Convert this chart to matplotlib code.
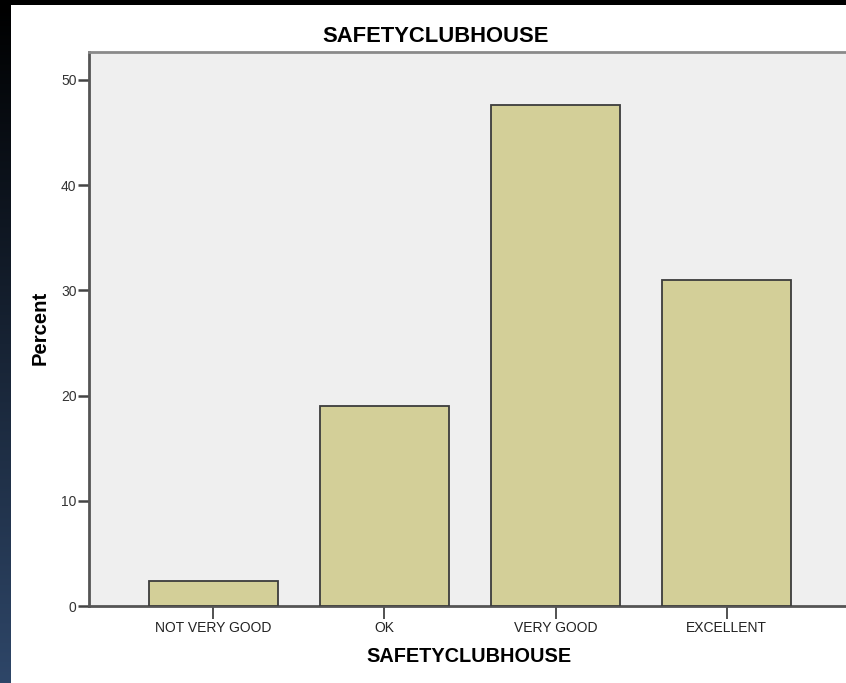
import numpy as np
import matplotlib.pyplot as plt
from matplotlib.patches import Rectangle

categories = ["NOT VERY GOOD", "OK", "VERY GOOD", "EXCELLENT"]
percent = [2.4, 19.0, 47.6, 31.0]
yticks = [0, 10, 20, 30, 40, 50]

plt.rcParams['font.family'] = ['Liberation Sans', 'DejaVu Sans']

W, H = 846, 683
fig = plt.figure(figsize=(W / 100, H / 100), dpi=100)
fig.patch.set_facecolor('black')

# white page area
fig.patches.append(Rectangle((10 / W, 0), 1, 1 - 5 / H, transform=fig.transFigure,
                             facecolor='white', edgecolor='none', zorder=-10))
# dark blue strip on the left edge
strip = fig.add_axes([0, 0, 10 / W, 1 - 5 / H])
grad = np.linspace(0, 1, 256).reshape(-1, 1)
strip.imshow(grad, aspect='auto', cmap=plt.matplotlib.colors.LinearSegmentedColormap.from_list(
    'edge', ['#2e4668', '#000000']), origin='lower')
strip.axis('off')

ax = fig.add_axes([89 / W, 1 - 606 / H, (851 - 89) / W, (606 - 52) / H])
ax.set_facecolor('#efefef')
x = np.arange(len(categories))
ax.bar(x, percent, width=0.755, color='#d3cf98', edgecolor='#3c3c3c', linewidth=1.3, zorder=3)

ax.set_xlim(-0.725, 3.725)
ax.set_ylim(0, 52.66)
ax.set_yticks(yticks)
ax.set_xticks(x)
ax.set_xticklabels(categories, fontsize=10, color='#222222')
ax.tick_params(axis='y', length=8, width=1.8, color='#444444', labelsize=10,
               labelcolor='#333333', pad=1)
ax.tick_params(axis='x', length=9, width=1.1, color='#222222', pad=2)

for side in ['left', 'bottom']:
    ax.spines[side].set_color('#555555')
    ax.spines[side].set_linewidth(2)
ax.spines['top'].set_color('#8a8a8a')
ax.spines['top'].set_linewidth(2)
ax.spines['right'].set_visible(False)

fig.text(436 / W, 1 - 36 / H, "SAFETYCLUBHOUSE", ha='center', va='center',
         fontsize=15.8, fontweight='bold')
fig.text(469 / W, 1 - 657 / H, "SAFETYCLUBHOUSE", ha='center', va='center',
         fontsize=14.3, fontweight='bold')
fig.text(40 / W, 1 - 328 / H, "Percent", ha='center', va='center', rotation=90,
         fontsize=14.6, fontweight='bold')

fig.savefig('out.png', dpi=100, facecolor=fig.get_facecolor())
